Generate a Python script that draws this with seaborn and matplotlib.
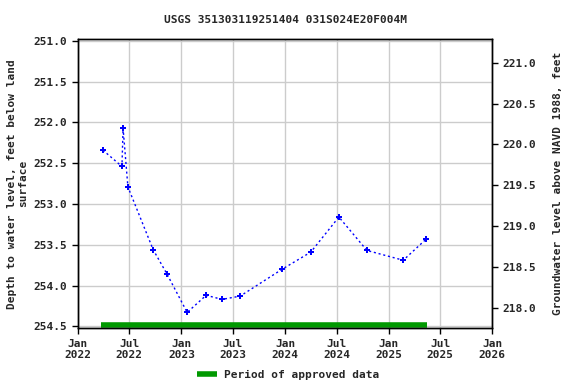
import matplotlib
matplotlib.use('Agg')
import matplotlib.pyplot as plt
import matplotlib.dates as mdates
import seaborn as sns
import pandas as pd

# measurement dates and depth to water (feet below land surface)
dates = ['2022-03-30', '2022-06-05', '2022-06-09', '2022-06-26',
         '2022-09-23', '2022-11-11', '2023-01-21', '2023-03-29',
         '2023-05-24', '2023-07-27', '2023-12-22', '2024-04-01',
         '2024-07-09', '2024-10-16', '2025-02-21', '2025-05-13']
depths = [252.34, 252.54, 252.07, 252.79,
          253.56, 253.86, 254.33, 254.12,
          254.17, 254.13, 253.80, 253.59,
          253.16, 253.57, 253.69, 253.43]

approved_start = '2022-03-22'
approved_end = '2025-05-14'
datum = 472.27  # land surface elevation, NAVD 1988

sns.set_theme(style="whitegrid", rc={
    "grid.color": "#cccccc",
    "grid.linewidth": 1.0,
    "axes.edgecolor": "black",
    "axes.linewidth": 1.0,
    "xtick.bottom": True,
    "ytick.left": True,
    "xtick.major.size": 4,
    "ytick.major.size": 4,
})
plt.rcParams['font.family'] = ['DejaVu Sans Mono', 'DejaVu Sans']
plt.rcParams['font.weight'] = 'bold'

df = pd.DataFrame({'date': pd.to_datetime(dates), 'depth': depths})

fig = plt.figure(figsize=(5.76, 3.84), dpi=100)
ax = fig.add_axes([0.1354, 0.145, 0.7193, 0.7527])

sns.lineplot(data=df, x='date', y='depth', ax=ax, color='#0000ff',
             linestyle=(0, (1.5, 2)), linewidth=1.0, marker='P',
             markersize=5, markeredgewidth=0, markerfacecolor='#0000ff')

ax.plot(pd.to_datetime([approved_start, approved_end]), [254.48, 254.48],
        color='#009900', linewidth=4, solid_capstyle='butt')

ax.set_xlim(pd.Timestamp('2022-01-01'), pd.Timestamp('2026-01-01'))
ax.set_ylim(254.525, 250.98)
ax.set_yticks([251.0, 251.5, 252.0, 252.5, 253.0, 253.5, 254.0, 254.5])
ax.yaxis.set_major_formatter(matplotlib.ticker.FormatStrFormatter('%.1f'))
ax.xaxis.set_major_locator(mdates.MonthLocator(bymonth=[1, 7]))
ax.xaxis.set_major_formatter(mdates.DateFormatter('%b\n%Y'))
ax.tick_params(labelsize=8, width=1, color='black')
ax.set_xlabel('')
ax.set_ylabel('Depth to water level, feet below land\nsurface',
              fontsize=8, fontweight='bold')
ax.set_title('USGS 351303119251404 031S024E20F004M',
             fontsize=8, fontweight='bold', pad=12)

ax2 = ax.twinx()
lo, hi = ax.get_ylim()
ax2.set_ylim(datum - lo, datum - hi)
ax2.set_yticks([218.0, 218.5, 219.0, 219.5, 220.0, 220.5, 221.0])
ax2.yaxis.set_major_formatter(matplotlib.ticker.FormatStrFormatter('%.1f'))
ax2.grid(False)
ax2.tick_params(labelsize=8, width=1, length=4, color='black', right=True)
ax2.set_ylabel('Groundwater level above NAVD 1988, feet',
               fontsize=8, fontweight='bold', labelpad=12)

handle = plt.Line2D([], [], color='#009900', linewidth=4,
                    solid_capstyle='butt')
fig.legend([handle], ['Period of approved data'], loc='lower center',
           bbox_to_anchor=(0.5, -0.015), frameon=False, fontsize=8,
           handlelength=1.8, handletextpad=0.6)

fig.savefig('out.png', dpi=100)
